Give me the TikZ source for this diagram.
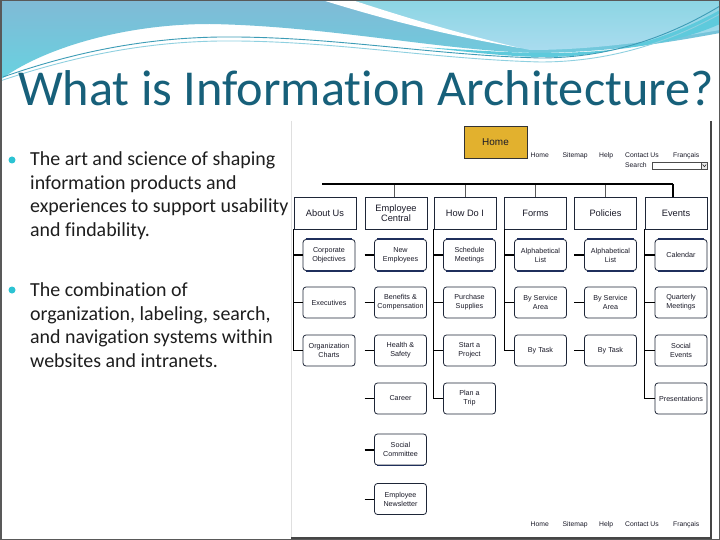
\documentclass[tikz,border=0pt]{standalone}
\usepackage{fontspec}
\setmainfont{Carlito}[Ligatures=NoCommon]
\newfontfamily\sitefont{Liberation Sans}
\definecolor{titlec}{HTML}{17607A}
\definecolor{bulletc}{HTML}{2CC3D3}
\definecolor{bandtop}{HTML}{80BAD6}
\definecolor{bandbot}{HTML}{68D2E0}
\definecolor{righttop}{HTML}{8CD5E3}
\definecolor{rightbot}{HTML}{A9DCEF}
\definecolor{cyanband}{HTML}{5ECADC}
\definecolor{linec}{HTML}{3C9CB6}
\definecolor{linec2}{HTML}{8FD0E0}
\definecolor{boxc}{HTML}{1E2638}
\definecolor{navyc}{HTML}{1F2F5C}
\definecolor{homec}{HTML}{E2B12E}
\definecolor{sitetext}{HTML}{1A1A28}
\definecolor{bodytext}{HTML}{1E1E1E}
\begin{document}
\begin{tikzpicture}[x=1bp,y=-1bp,
  topbox/.style={draw=boxc, line width=0.8bp, minimum width=62bp, minimum height=32bp,
    font=\sitefont\fontsize{9.3}{10.5}\selectfont, align=center, inner sep=1bp, text=sitetext},
  subbox/.style={draw=boxc, line width=0.8bp, rounded corners=3bp, minimum width=52bp, minimum height=31bp,
    font=\sitefont\fontsize{7.2}{9}\selectfont, align=center, inner sep=1bp, text=sitetext},
  navlink/.style={font=\sitefont\fontsize{6.8}{8}\selectfont, text=sitetext, inner sep=0, anchor=base west},
  tree/.style={draw=black, line width=0.9bp},
  treethick/.style={draw=black, line width=2bp},
  barline/.style={draw=black, line width=2.2bp},
  tick/.style={draw=gray!70!black, line width=0.8bp},
  edgethick/.style={draw=navyc, line width=1.8bp},
  bodyline/.style={font=\fontsize{20}{24}\selectfont, text=bodytext, inner sep=0, anchor=base west},
  bulletdot/.style={circle, fill=bulletc, inner sep=0, minimum size=7bp}
]
\useasboundingbox (0,0) rectangle (720,540);
\fill[white] (0,0) rectangle (720,540);

% ---------- top banner ----------
\shade[top color=bandtop, bottom color=bandbot]
  (0,0) -- (720,0) -- (720,33) .. controls (650,46) and (600,52) .. (540,53)
  .. controls (450,52) and (330,26) .. (210,24) .. controls (120,24) and (40,50) .. (0,80) -- cycle;
\shade[top color=righttop, bottom color=rightbot]
  (352,0) -- (720,0) -- (720,30) .. controls (650,42) and (590,50) .. (530,50)
  .. controls (450,34) and (392,13) .. (352,0) -- cycle;
\fill[white] (322,0) .. controls (380,18) and (440,34) .. (520,48)
  .. controls (445,30) and (392,13) .. (352,0) -- cycle;
\fill[cyanband] (420,47) .. controls (470,52) and (510,57) .. (545,57)
  .. controls (620,57) and (680,32) .. (720,10) -- (720,24)
  .. controls (680,42) and (620,53) .. (545,53) .. controls (510,53) and (470,50) .. (420,47) -- cycle;
\draw[linec, line width=0.9bp] (3,77) .. controls (80,50) and (150,38) .. (220,37)
  .. controls (330,36) and (430,55) .. (540,58) .. controls (620,58) and (680,30) .. (720,6);
\draw[linec2, line width=0.9bp] (0,81) .. controls (80,54) and (150,42) .. (220,41)
  .. controls (330,40) and (430,59) .. (540,62) .. controls (620,62) and (680,36) .. (720,14);

% ---------- title ----------
\node[font=\fontsize{50.5}{58}\selectfont, text=titlec, inner sep=0, anchor=base] (title) at (366,106)
  {What is Information Architecture?};

% ---------- bullets ----------
\node[bulletdot] (d1) at (12,160) {};
\node[bodyline] (l1) at (30,166) {The art and science of shaping};
\node[bodyline] (l2) at (30,189.5) {information products and};
\node[bodyline] (l3) at (30,213) {experiences to support usability};
\node[bodyline] (l4) at (30,236.5) {and findability.};
\node[bulletdot] (d2) at (12,290) {};
\node[bodyline] (l5) at (30,296.5) {The combination of};
\node[bodyline] (l6) at (30,320) {organization, labeling, search,};
\node[bodyline] (l7) at (30,343.5) {and navigation systems within};
\node[bodyline] (l8) at (30,367) {websites and intranets.};

% ---------- sitemap frame ----------
\draw[gray!25, line width=1bp] (291,121) -- (291,538);
\draw[gray!55!black, line width=1.2bp] (711,121) -- (711,538) -- (291,538);

% ---------- home + navigation ----------
\node[draw=black!80, fill=homec, line width=0.9bp, minimum width=63bp, minimum height=32bp,
  font=\sitefont\fontsize{10}{12}\selectfont, text=sitetext] (home) at (495.5,142) {Home};
\node[navlink] (nh) at (530.5,157.5) {Home};
\node[navlink] (ns) at (562.5,157.5) {Sitemap};
\node[navlink] (np) at (599,157.5) {Help};
\node[navlink] (nc) at (625,157.5) {Contact Us};
\node[navlink] (nf) at (673,157.5) {Français};
\node[navlink] (nsearch) at (625,168) {Search};
\node[draw=gray!60!black, line width=0.7bp, minimum width=55bp, minimum height=7bp, inner sep=0, anchor=west] (sbox) at (652,165.5) {};
\node[draw=gray!60!black, fill=gray!15, line width=0.6bp, minimum width=6bp, minimum height=7bp, inner sep=0, anchor=east] (sdrop) at (sbox.east) {};
\draw[gray!40!black, line width=0.6bp] ([xshift=-1.8bp,yshift=1bp]sdrop.center) -- ([yshift=-1.2bp]sdrop.center) -- ([xshift=1.8bp,yshift=1bp]sdrop.center);

\node[navlink] (bh) at (530.5,526.5) {Home};
\node[navlink] (bs) at (562.5,526.5) {Sitemap};
\node[navlink] (bp) at (599,526.5) {Help};
\node[navlink] (bc) at (625,526.5) {Contact Us};
\node[navlink] (bf) at (673,526.5) {Français};

% ---------- top level ----------
\node[topbox] (about) at (325,213) {About Us};
\node[topbox] (ec) at (396,213) {Employee\\Central};
\node[topbox] (hdi) at (465,213) {How Do I};
\node[topbox] (forms) at (535.5,213) {Forms};
\node[topbox] (pol) at (605.5,213) {Policies};
\node[topbox] (ev) at (676,213) {Events};

\coordinate (barL) at (322,184);
\coordinate (barR) at (673,184);
\draw[tick] ([xshift=-2bp]ec.north) -- ([xshift=-2bp]ec.north |- barL);
\draw[tick] (hdi.north) -- (hdi.north |- barL);
\draw[tick] (forms.north) -- (forms.north |- barL);
\draw[tick] (pol.north) -- (pol.north |- barL);
\draw[barline] (barL) -- (barR);
\draw[treethick] (barR) -- (barR |- ev.north);

% ---------- second level ----------
% column 1
\node[subbox] (co) at (329,255) {Corporate\\Objectives};
\node[subbox] (exe) at (329,302.5) {Executives};
\node[subbox] (org) at (329,350.5) {Organization\\Charts};
% column 2
\node[subbox] (ne) at (400.5,255) {New\\Employees};
\node[subbox] (ben) at (400.5,302.5) {Benefits \&\\Compensation};
\node[subbox] (hs) at (400.5,350.5) {Health \&\\Safety};
\node[subbox] (car) at (400.5,398.5) {Career};
\node[subbox] (sc) at (400.5,449.5) {Social\\Committee};
\node[subbox] (nl) at (400.5,499) {Employee\\Newsletter};
% column 3
\node[subbox] (sm) at (469.5,255) {Schedule\\Meetings};
\node[subbox] (ps) at (469.5,302.5) {Purchase\\Supplies};
\node[subbox] (sp) at (469.5,350.5) {Start a\\Project};
\node[subbox] (pt) at (469.5,398.5) {Plan a\\Trip};
% column 4
\node[subbox] (fa) at (540.5,255) {Alphabetical\\List};
\node[subbox] (fs) at (540.5,302.5) {By Service\\Area};
\node[subbox] (ft) at (540.5,350.5) {By Task};
% column 5
\node[subbox] (pa) at (610.5,255) {Alphabetical\\List};
\node[subbox] (pse) at (610.5,302.5) {By Service\\Area};
\node[subbox] (ptk) at (610.5,350.5) {By Task};
% column 6
\node[subbox] (cal) at (681,255) {Calendar};
\node[subbox] (qm) at (681,302.5) {Quarterly\\Meetings};
\node[subbox] (se) at (681,350.5) {Social\\Events};
\node[subbox] (pr) at (681,398.5) {Presentations};

% thick top/bottom edges of first row
\foreach \n in {co,ne,sm,fa,pa,cal}{
  \draw[edgethick] ([xshift=3bp]\n.north west) -- ([xshift=-3bp]\n.north east);
  \draw[edgethick] ([xshift=3bp]\n.south west) -- ([xshift=-3bp]\n.south east);
}
\draw[edgethick] ([xshift=3bp]sc.south west) -- ([xshift=-3bp]sc.south east);

% ---------- connectors ----------
% column 1
\draw[tree] (about.south west) |- (org.west);
\draw[treethick] (about.south west |- co.west) -- (co.west);
\draw[tree] (about.south west |- exe.west) -- (exe.west);
% column 2
\draw[treethick] (ec.west |- ne.west) -- (ne.west);
\draw[tree] (ec.west |- ben.west) -- (ben.west);
\draw[tree] (ec.west |- hs.west) -- (hs.west);
\draw[tree] (ec.west |- car.west) -- (car.west);
\draw[treethick] (ec.west |- sc.west) -- (sc.west);
\draw[tree] (ec.west |- nl.west) -- (nl.west);
% column 3
\draw[tree] (hdi.south west) |- (pt.west);
\draw[treethick] (hdi.south west |- sm.west) -- (sm.west);
\draw[tree] (hdi.south west |- ps.west) -- (ps.west);
\draw[tree] (hdi.south west |- sp.west) -- (sp.west);
% column 4
\draw[tree] (forms.south west) |- (ft.west);
\draw[treethick] (forms.south west |- fa.west) -- (fa.west);
\draw[tree] (forms.south west |- fs.west) -- (fs.west);
% column 5
\draw[treethick] (pol.west |- pa.west) -- (pa.west);
\draw[tree] (pol.west |- pse.west) -- (pse.west);
\draw[tree] (pol.west |- ptk.west) -- (ptk.west);
% column 6
\draw[tree] (ev.south west) |- (pr.west);
\draw[treethick] (ev.south west |- cal.west) -- (cal.west);
\draw[tree] (ev.south west |- qm.west) -- (qm.west);
\draw[tree] (ev.south west |- se.west) -- (se.west);

% ---------- slide border ----------
\draw[line width=1.5bp, color=black!65] (0.75,0.75) rectangle (719.25,539.25);
\end{tikzpicture}
\end{document}
